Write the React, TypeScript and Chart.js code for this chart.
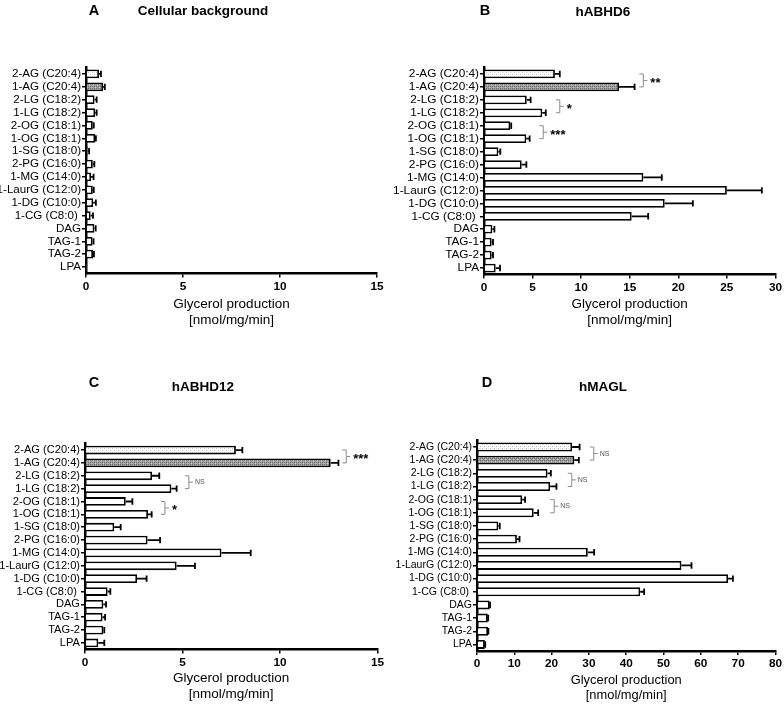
import React, { useEffect, useRef } from 'react';
import { Chart, registerables } from 'chart.js';
Chart.register(...registerables);

const FONT = "'Liberation Sans', Arial, Helvetica, sans-serif";

const categories = [
  '2-AG (C20:4)', '1-AG (C20:4)', '2-LG (C18:2)', '1-LG (C18:2)', '2-OG (C18:1)', '1-OG (C18:1)',
  '1-SG (C18:0)', '2-PG (C16:0)', '1-MG (C14:0)', '1-LaurG (C12:0)', '1-DG (C10:0)', '1-CG (C8:0) ',
  'DAG', 'TAG-1', 'TAG-2', 'LPA',
];

// Panel A: Cellular background
const bgMeans = [0.67, 0.88, 0.44, 0.47, 0.35, 0.47, 0.09, 0.35, 0.26, 0.35, 0.37, 0.24, 0.43, 0.34, 0.36, 0.01];
const bgErr = [0.1, 0.09, 0.11, 0.08, 0.05, 0.04, 0.07, 0.08, 0.13, 0.05, 0.14, 0.12, 0.07, 0.05, 0.05, 0];
// Panel B: hABHD6
const abhd6Means = [7.3, 13.9, 4.4, 6.0, 2.7, 4.36, 1.48, 3.88, 16.4, 25.0, 18.6, 15.2, 0.86, 0.79, 0.79, 1.2];
const abhd6Err = [0.5, 1.6, 0.4, 0.36, 0.1, 0.34, 0.2, 0.48, 1.9, 3.6, 2.9, 1.7, 0.21, 0.14, 0.14, 0.45];
// Panel C: hABHD12
const abhd12Means = [7.74, 12.6, 3.44, 4.43, 2.09, 3.23, 1.5, 3.21, 7.0, 4.7, 2.67, 1.16, 0.94, 0.9, 0.94, 0.68];
const abhd12Err = [0.33, 0.4, 0.37, 0.27, 0.34, 0.19, 0.33, 0.64, 1.5, 0.94, 0.49, 0.14, 0.14, 0.13, 0.05, 0.31];
// Panel D: hMAGL
const maglMeans = [25.5, 26.1, 18.9, 19.6, 12.1, 15.2, 5.7, 10.7, 29.7, 54.8, 67.3, 43.75, 3.4, 2.9, 2.95, 2.1];
const maglErr = [2.0, 1.2, 0.9, 1.7, 0.8, 1.2, 0.4, 0.7, 1.7, 2.7, 1.3, 1.05, 0.1, 0.1, 0.1, 0.1];

const xMaxes = [15, 30, 15, 80];
const xSteps = [5, 5, 5, 10];

type Bracket = { row: number; x: number; label: string };

const bracketsA: Bracket[] = [];
const bracketsB: Bracket[] = [
  { row: 0, x: 16.4, label: '**' },
  { row: 2, x: 7.8, label: '*' },
  { row: 4, x: 6.1, label: '***' },
];
const bracketsC: Bracket[] = [
  { row: 0, x: 13.4, label: '***' },
  { row: 2, x: 5.33, label: 'NS' },
  { row: 4, x: 4.1, label: '*' },
];
const bracketsD: Bracket[] = [
  { row: 0, x: 31.3, label: 'NS' },
  { row: 2, x: 25.4, label: 'NS' },
  { row: 4, x: 20.7, label: 'NS' },
];

const axisTitle = ['Glycerol production', '[nmol/mg/min]'];

type Spec = {
  letter: string;
  title: string;
  means: number[];
  errs: number[];
  xMax: number;
  xStep: number;
  brackets: Bracket[];
  x: number; y: number; w: number; h: number;
  area: { left: number; right: number; top: number; bottom: number };
  axisTitleY: number;
  axisTitleSize: number;
  labelSize: number;
  letterX: number; letterY: number;
  titleX: number; titleY: number;
};

const specs: Spec[] = [
  {
    letter: 'A', title: 'Cellular background', means: bgMeans, errs: bgErr, xMax: xMaxes[0], xStep: xSteps[0], brackets: bracketsA,
    x: 0, y: 0, w: 386, h: 352,
    area: { left: 86, right: 377, top: 67.5, bottom: 273.5 },
    axisTitleY: 304, axisTitleSize: 13.5, labelSize: 11.6,
    letterX: 94, letterY: 11, titleX: 203, titleY: 11,
  },
  {
    letter: 'B', title: 'hABHD6', means: abhd6Means, errs: abhd6Err, xMax: xMaxes[1], xStep: xSteps[1], brackets: bracketsB,
    x: 386, y: 0, w: 398, h: 352,
    area: { left: 98, right: 390, top: 67.5, bottom: 274.5 },
    axisTitleY: 304, axisTitleSize: 13.5, labelSize: 11.8,
    letterX: 99, letterY: 11, titleX: 217, titleY: 12,
  },
  {
    letter: 'C', title: 'hABHD12', means: abhd12Means, errs: abhd12Err, xMax: xMaxes[2], xStep: xSteps[2], brackets: bracketsC,
    x: 0, y: 352, w: 386, h: 353,
    area: { left: 85, right: 377.5, top: 91.6, bottom: 297.4 },
    axisTitleY: 326, axisTitleSize: 13.5, labelSize: 11.1,
    letterX: 94, letterY: 31, titleX: 203, titleY: 35,
  },
  {
    letter: 'D', title: 'hMAGL', means: maglMeans, errs: maglErr, xMax: xMaxes[3], xStep: xSteps[3], brackets: bracketsD,
    x: 386, y: 352, w: 398, h: 353,
    area: { left: 91, right: 390, top: 88.4, bottom: 299 },
    axisTitleY: 328, axisTitleSize: 12.9, labelSize: 10.5,
    letterX: 101, letterY: 31, titleX: 217, titleY: 35,
  },
];

function makePattern(kind: 'light' | 'dark'): CanvasPattern | string {
  const c = document.createElement('canvas');
  c.width = 4; c.height = 4;
  const g = c.getContext('2d');
  if (!g) return kind === 'light' ? '#eee' : '#999';
  if (kind === 'light') {
    g.fillStyle = '#ffffff'; g.fillRect(0, 0, 4, 4);
    g.fillStyle = '#c4c4c4'; g.fillRect(0, 0, 1, 1); g.fillRect(2, 2, 1, 1);
    g.fillStyle = '#e6e6e6'; g.fillRect(2, 0, 1, 1); g.fillRect(0, 2, 1, 1);
  } else {
    g.fillStyle = '#a0a0a0'; g.fillRect(0, 0, 4, 4);
    g.fillStyle = '#6a6a6a'; g.fillRect(0, 0, 1, 1); g.fillRect(2, 2, 1, 1); g.fillRect(2, 0, 1, 1); g.fillRect(0, 2, 1, 1);
    g.fillStyle = '#c8c8c8'; g.fillRect(1, 1, 1, 1); g.fillRect(3, 3, 1, 1);
  }
  return g.createPattern(c, 'repeat') || '#999';
}

function makeExtras(spec: Spec) {
  return {
    id: 'extras' + spec.letter,
    afterDatasetsDraw(chart: any) {
      const ctx: CanvasRenderingContext2D = chart.ctx;
      const xs = chart.scales.x;
      const ys = chart.scales.y;
      const meta = chart.getDatasetMeta(0);
      ctx.save();
      // error bars (positive side only)
      meta.data.forEach((el: any, i: number) => {
        const e = spec.errs[i];
        if (!e) return;
        const v = spec.means[i];
        const x0 = xs.getPixelForValue(v);
        const x1 = xs.getPixelForValue(v + e);
        const y = el.y;
        const hh = el.height * 0.36;
        ctx.strokeStyle = '#000';
        ctx.lineWidth = 1.8;
        ctx.beginPath();
        ctx.moveTo(x0, y); ctx.lineTo(x1, y);
        ctx.moveTo(x1, y - hh); ctx.lineTo(x1, y + hh);
        ctx.stroke();
      });
      // significance brackets
      spec.brackets.forEach((b) => {
        const x = xs.getPixelForValue(b.x);
        const y0 = ys.getPixelForValue(b.row);
        const y1 = ys.getPixelForValue(b.row + 1);
        const mid = (y0 + y1) / 2;
        ctx.strokeStyle = '#8c8c8c';
        ctx.lineWidth = 1;
        ctx.beginPath();
        ctx.moveTo(x - 4, y0); ctx.lineTo(x, y0); ctx.lineTo(x, y1); ctx.lineTo(x - 4, y1);
        ctx.moveTo(x, mid); ctx.lineTo(x + 4, mid);
        ctx.stroke();
        ctx.textAlign = 'left';
        ctx.textBaseline = 'middle';
        if (b.label === 'NS') {
          ctx.fillStyle = '#555';
          ctx.font = `7px ${FONT}`;
          ctx.fillText(b.label, x + 6, mid);
        } else {
          ctx.fillStyle = '#000';
          ctx.font = `bold 13px ${FONT}`;
          ctx.fillText(b.label, x + 7, mid + 3);
        }
      });
      ctx.restore();
    },
    afterDraw(chart: any) {
      const ctx: CanvasRenderingContext2D = chart.ctx;
      ctx.save();
      ctx.fillStyle = '#000';
      ctx.textAlign = 'center';
      ctx.textBaseline = 'middle';
      ctx.font = `bold 14.5px ${FONT}`;
      ctx.fillText(spec.letter, spec.letterX, spec.letterY);
      ctx.font = `bold 13.5px ${FONT}`;
      ctx.fillText(spec.title, spec.titleX, spec.titleY);
      ctx.restore();
    },
  };
}

function Panel({ spec }: { spec: Spec }) {
  const ref = useRef<HTMLCanvasElement>(null);
  useEffect(() => {
    const canvas = ref.current;
    if (!canvas) return;
    const light = makePattern('light');
    const dark = makePattern('dark');
    const bg = spec.means.map((_, i) => (i === 0 ? light : i === 1 ? dark : '#ffffff'));
    const lh = spec.axisTitleSize * 1.2;
    const pb = spec.h - spec.axisTitleY - (lh / 2 + lh * (axisTitle.length - 1));
    const chart = new Chart(canvas, {
      type: 'bar',
      data: {
        labels: categories,
        datasets: [
          {
            data: spec.means,
            backgroundColor: bg as any,
            borderColor: '#000',
            borderWidth: 1.8,
            barPercentage: 0.68,
            categoryPercentage: 1,
          },
        ],
      },
      options: {
        indexAxis: 'y',
        animation: false,
        responsive: false,
        maintainAspectRatio: false,
        layout: { padding: { top: spec.area.top, right: spec.w - spec.area.right, left: 0, bottom: 0 } },
        plugins: { legend: { display: false }, tooltip: { enabled: false }, title: { display: false } },
        scales: {
          x: {
            type: 'linear',
            min: 0,
            max: spec.xMax,
            z: 1,
            afterFit: (scale: any) => { scale.height = spec.h - spec.area.bottom; },
            ticks: { stepSize: spec.xStep, color: '#000', font: { family: FONT, size: 11.8, weight: 'bold' }, padding: 2 },
            grid: { drawOnChartArea: false, drawTicks: true, tickLength: 4, color: '#000', lineWidth: 1.5 },
            border: { display: true, color: '#000', width: 2.5 },
            title: {
              display: true,
              text: axisTitle,
              color: '#000',
              font: { family: FONT, size: spec.axisTitleSize, lineHeight: 1.2 },
              padding: { top: 0, bottom: pb },
            },
          },
          y: {
            type: 'category',
            z: 1,
            afterFit: (scale: any) => { scale.width = spec.area.left; },
            ticks: { color: '#000', font: { family: FONT, size: spec.labelSize }, padding: 1, autoSkip: false },
            grid: { drawOnChartArea: false, drawTicks: true, tickLength: 4, color: '#000', lineWidth: 1.5, offset: false },
            border: { display: true, color: '#000', width: 2.5 },
          },
        },
      } as any,
      plugins: [makeExtras(spec)],
    });
    return () => chart.destroy();
  }, [spec]);
  return (
    <canvas
      ref={ref}
      width={spec.w}
      height={spec.h}
      style={{ position: 'absolute', left: spec.x, top: spec.y, width: spec.w, height: spec.h }}
    />
  );
}

export default function App() {
  return (
    <div style={{ position: 'absolute', left: 0, top: 0, width: 784, height: 705, background: '#fff', overflow: 'hidden' }}>
      {specs.map((s) => (
        <Panel key={s.letter} spec={s} />
      ))}
    </div>
  );
}
